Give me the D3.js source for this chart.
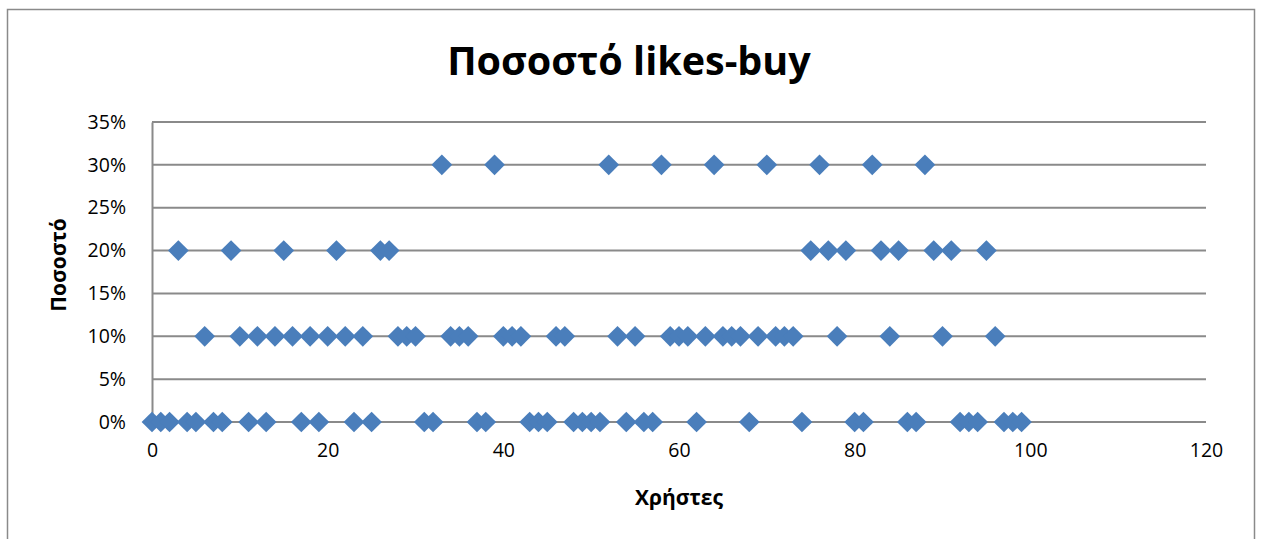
<!DOCTYPE html>
<html>
<head>
<meta charset="utf-8">
<script src="https://cdn.jsdelivr.net/npm/d3@7"></script>
<style>
  html, body { margin: 0; padding: 0; background: #fff; }
  svg { display: block; }
  text { font-family: "Open Sans", "Noto Sans", sans-serif; fill: #000; }
</style>
</head>
<body>
<svg id="chart" width="1261" height="539"></svg>
<script>
// Likes-to-buy rate (%) for each user, user numbers 0..99 in order
const likesBuyRate = [
  0, 0, 0, 20, 0, 0, 10, 0, 0, 20,
  10, 0, 10, 0, 10, 20, 10, 0, 10, 0,
  10, 20, 10, 0, 10, 0, 20, 20, 10, 10,
  10, 0, 0, 30, 10, 10, 10, 0, 0, 30,
  10, 10, 10, 0, 0, 0, 10, 10, 0, 0,
  0, 0, 30, 10, 0, 10, 0, 0, 30, 10,
  10, 10, 0, 10, 30, 10, 10, 10, 0, 10,
  30, 10, 10, 10, 0, 20, 30, 20, 10, 20,
  0, 0, 30, 20, 10, 20, 0, 0, 30, 20,
  10, 20, 0, 0, 0, 20, 10, 0, 0, 0
];
const xTicks = [0, 20, 40, 60, 80, 100, 120];
const yTicks = [0, 5, 10, 15, 20, 25, 30, 35];
const chartTitle = "Ποσοστό likes-buy";
const xTitle = "Χρήστες";
const yTitle = "Ποσοστό";

const svg = d3.select("#chart");
const plot = { left: 152, right: 1206, top: 122, bottom: 422 };

const x = d3.scaleLinear().domain([0, 120]).range([plot.left, plot.right]);
const y = d3.scaleLinear().domain([0, 35]).range([plot.bottom, plot.top]);

const gridColor = "#8a8a8a";

// outer chart frame
svg.append("rect")
  .attr("x", 7.5).attr("y", 9.5)
  .attr("width", 1247).attr("height", 560)
  .attr("fill", "none").attr("stroke", "#8a8a8a").attr("stroke-width", 1.5);

// horizontal gridlines (including the 0% baseline)
svg.append("g")
  .selectAll("line")
  .data(yTicks)
  .join("line")
  .attr("x1", plot.left).attr("x2", plot.right)
  .attr("y1", d => y(d)).attr("y2", d => y(d))
  .attr("stroke", gridColor).attr("stroke-width", 2);

// vertical value axis
const yAxis = d3.axisLeft(y).tickValues(yTicks).tickFormat(d => d + "%").tickSize(0).tickPadding(26);
const gy = svg.append("g").attr("transform", `translate(${plot.left},0)`).call(yAxis);
gy.select(".domain").attr("stroke", gridColor).attr("stroke-width", 2);
gy.selectAll("text").attr("font-size", 19.5).attr("font-family", "Open Sans, sans-serif").attr("fill", "#000");

// horizontal axis labels
const xAxis = d3.axisBottom(x).tickValues(xTicks).tickSize(0).tickPadding(21);
const gx = svg.append("g").attr("transform", `translate(0,${plot.bottom})`).call(xAxis);
gx.select(".domain").remove();
gx.selectAll("text").attr("font-size", 19.5).attr("font-family", "Open Sans, sans-serif").attr("fill", "#000");

// diamond markers
const diamond = d3.symbol().type(d3.symbolSquare).size(215);
svg.append("g")
  .selectAll("path")
  .data(likesBuyRate)
  .join("path")
  .attr("d", diamond)
  .attr("transform", (d, i) => `translate(${x(i)},${y(d)}) rotate(45)`)
  .attr("fill", "#4a7ebb");

// titles
svg.append("text")
  .attr("x", 629).attr("y", 75)
  .attr("text-anchor", "middle")
  .attr("font-size", 39.5).attr("font-weight", "bold")
  .text(chartTitle);

svg.append("text")
  .attr("x", 679).attr("y", 505)
  .attr("text-anchor", "middle")
  .attr("font-size", 21).attr("font-weight", "bold")
  .text(xTitle);

svg.append("text")
  .attr("transform", "translate(66,265) rotate(-90)")
  .attr("text-anchor", "middle")
  .attr("font-size", 21).attr("font-weight", "bold")
  .text(yTitle);
</script>
</body>
</html>
